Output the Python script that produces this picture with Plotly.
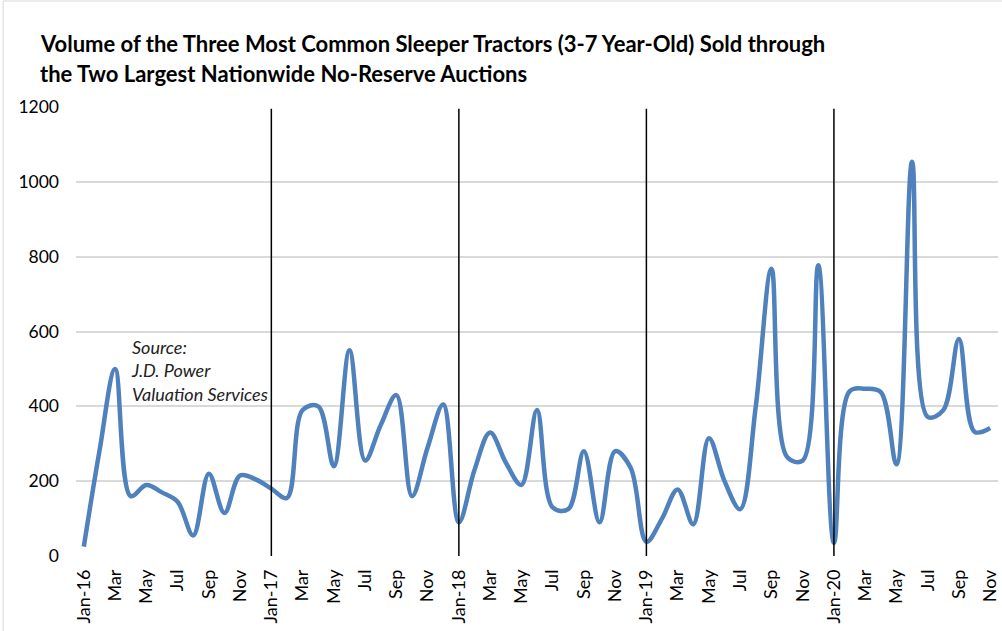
import plotly.graph_objects as go

months = ["Jan", "Feb", "Mar", "Apr", "May", "Jun", "Jul", "Aug", "Sep", "Oct", "Nov", "Dec"]
years = ["16", "17", "18", "19", "20"]
labels = []
for y in years:
    for i, m in enumerate(months):
        labels.append(f"{m}-{y}" if i == 0 else m)
labels = labels[:59]  # Jan-16 .. Nov-20

volume_2016 = [25, 280, 500, 160, 190, 170, 145, 55, 220, 115, 215, 205]
volume_2017 = [180, 155, 390, 400, 240, 550, 255, 350, 430, 160, 290, 405]
volume_2018 = [90, 230, 330, 250, 190, 390, 130, 125, 280, 90, 280, 235]
volume_2019 = [38, 100, 178, 85, 315, 200, 125, 400, 768, 265, 255, 777]
volume_2020 = [35, 440, 447, 438, 245, 1054, 372, 390, 580, 332, 342]
volume = volume_2016 + volume_2017 + volume_2018 + volume_2019 + volume_2020

x = list(range(len(volume)))
year_starts = [i for i, lab in enumerate(labels) if lab.startswith("Jan-") and i > 0]

FONT = "Lato"
W, H = 1002, 631
ml, mr, mt, mb = 76, 2, 107, 75

fig = go.Figure()
fig.add_trace(go.Scatter(
    x=x, y=volume, mode="lines",
    line=dict(color="#4F81BD", width=4.5, shape="spline", smoothing=1.0),
    hoverinfo="skip", showlegend=False,
))

shapes = []
for i in year_starts:
    shapes.append(dict(type="line", xref="x", yref="y", x0=i, x1=i, y0=0, y1=1195,
                       line=dict(color="black", width=1.5), layer="above"))
# chart area border
pw, ph = W - ml - mr, H - mt - mb
shapes.append(dict(type="rect", xref="paper", yref="paper",
                   x0=(3 - ml) / pw, x1=(W + 5 - ml) / pw,
                   y0=(H - mt - (H + 5)) / ph + 0, y1=(H - mb - 1) / ph - 0,
                   line=dict(color="#D9D9D9", width=1), layer="below"))

fig.update_layout(
    width=W, height=H,
    margin=dict(l=ml, r=mr, t=mt, b=mb),
    paper_bgcolor="white", plot_bgcolor="white",
    font=dict(family=FONT, size=18, color="black"),
    shapes=shapes,
    xaxis=dict(
        range=[-0.5, len(volume) - 0.5],
        tickmode="array", tickvals=x[::2], ticktext=labels[::2],
        tickangle=-90, showgrid=False, zeroline=False, showline=False,
        ticks="", tickfont=dict(family=FONT, size=18, color="black"),
        ticklabelstandoff=9, ticklabeloverflow="allow",
    ),
    yaxis=dict(
        range=[0, 1200], dtick=200, showgrid=True, gridcolor="#D9D9D9", gridwidth=1.5,
        zeroline=False, showline=False, ticks="",
        tickfont=dict(family=FONT, size=17.5, color="black"),
        ticklabelstandoff=16,
    ),
    annotations=[
        dict(xref="paper", yref="paper", x=(38 - ml) / pw, y=(H - mb - 43) / ph,
             xanchor="left", yanchor="middle", showarrow=False, align="left",
             text="<b>Volume of the Three Most Common Sleeper Tractors (3-7 Year-Old) Sold through</b>",
             font=dict(family=FONT, size=22, color="black")),
        dict(xref="paper", yref="paper", x=(38 - ml) / pw, y=(H - mb - 73) / ph,
             xanchor="left", yanchor="middle", showarrow=False, align="left",
             text="<b>the Two Largest Nationwide No-Reserve Auctions</b>",
             font=dict(family=FONT, size=22, color="black")),
        dict(xref="paper", yref="paper", x=(129 - ml) / pw, y=(H - mb - 334) / ph,
             xanchor="left", yanchor="top", showarrow=False, align="left",
             text="<i>Source:<br>J.D. Power<br>Valuation Services</i>",
             font=dict(family=FONT, size=18, color="#222222")),
    ],
)

fig.write_html("out.html")
